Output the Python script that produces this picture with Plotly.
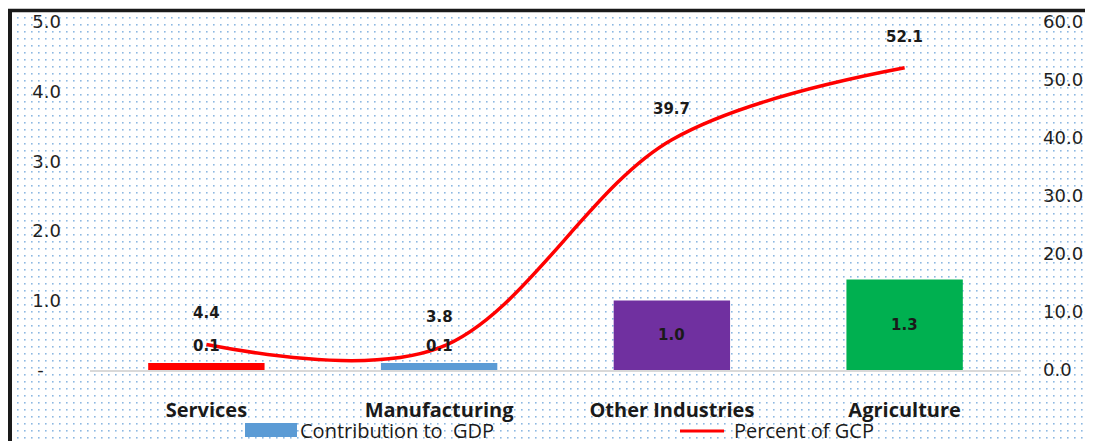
import base64
import plotly.graph_objects as go

categories = ["Services", "Manufacturing", "Other Industries", "Agriculture"]
contribution_gdp = [0.1, 0.1, 1.0, 1.3]
percent_gcp = [4.4, 3.8, 39.7, 52.1]
bar_colors = ["#FF0000", "#5B9BD5", "#7030A0", "#00B050"]
left_ticks = [0, 1, 2, 3, 4, 5]
left_ticktext = ["-\u00a0\u00a0\u00a0", "1.0", "2.0", "3.0", "4.0", "5.0"]
right_ticks = [0, 10, 20, 30, 40, 50, 60]
right_ticktext = ["0.0", "10.0", "20.0", "30.0", "40.0", "50.0", "60.0"]

W, H = 1093, 441
OFF = 8  # page body margin: figure is drawn 8px right/down in the window
ML, MT = 90 - OFF, 22 - OFF
MB = H - (370 - OFF)
MR = W - (1021 - OFF)
PW, PH = W - ML - MR, H - MT - MB


def px(x):  # window pixel -> paper x
    return (x - OFF - ML) / PW


def py(y):  # window pixel -> paper y
    return (H - MB - (y - OFF)) / PH


# dotted background pattern
svg = (
    f'<svg xmlns="http://www.w3.org/2000/svg" width="{W}" height="{H}">'
    '<defs><pattern id="d" width="7" height="7" patternUnits="userSpaceOnUse">'
    '<rect x="2" y="2" width="1.6" height="1.6" fill="#8DB8E2"/></pattern></defs>'
    f'<rect x="{12 - OFF}" y="{12 - OFF}" width="{W}" height="{H}" fill="url(#d)"/></svg>'
)
svg_uri = "data:image/svg+xml;base64," + base64.b64encode(svg.encode()).decode()

fig = go.Figure()
fig.add_trace(go.Bar(
    x=categories, y=contribution_gdp, marker=dict(color=bar_colors, line=dict(width=0)),
    width=0.5, name="Contribution to  GDP", showlegend=False, hoverinfo="x+y",
))
fig.add_trace(go.Scatter(
    x=categories, y=percent_gcp, yaxis="y2", mode="lines",
    line=dict(color="#FF0000", width=3.5, shape="spline", smoothing=1.0),
    name="Percent of GCP", showlegend=False,
))

annotations = []
label_font = dict(family="DejaVu Sans", size=15, color="#1a1a1a")
for c, v in zip(categories, contribution_gdp):
    if v < 0.5:
        annotations.append(dict(x=c, y=v, xref="x", yref="y", text=f"<b>{v:.1f}</b>",
                                showarrow=False, yshift=17, font=label_font))
    else:
        annotations.append(dict(x=c, y=v / 2, xref="x", yref="y", text=f"<b>{v:.1f}</b>",
                                showarrow=False, font=label_font))
for c, v in zip(categories, percent_gcp):
    annotations.append(dict(x=c, y=v, xref="x", yref="y2", text=f"<b>{v:.1f}</b>",
                            showarrow=False, yshift=31, font=label_font))

legend_font = dict(family="Open Sans", size=20, color="#1a1a1a")
annotations.append(dict(x=px(298), y=py(430.5), xref="paper", yref="paper", xanchor="left",
                        yanchor="middle", text="Contribution to \u00a0GDP", showarrow=False,
                        font=legend_font))
annotations.append(dict(x=px(732), y=py(430.5), xref="paper", yref="paper", xanchor="left",
                        yanchor="middle", text="Percent of GCP", showarrow=False,
                        font=legend_font))

shapes = [
    dict(type="rect", xref="paper", yref="paper", x0=px(245), x1=px(297), y0=py(437), y1=py(423),
         fillcolor="#5B9BD5", line=dict(width=0)),
    dict(type="line", xref="paper", yref="paper", x0=px(680), x1=px(724), y0=py(431), y1=py(431),
         line=dict(color="#FF0000", width=3)),
    dict(type="line", xref="paper", yref="paper", x0=px(10), x1=px(10), y0=py(9), y1=py(460),
         line=dict(color="#1a1a1a", width=4)),
    dict(type="line", xref="paper", yref="paper", x0=px(8), x1=px(1110), y0=py(10.5), y1=py(10.5),
         line=dict(color="#1a1a1a", width=3.5)),
]

fig.update_layout(
    width=W, height=H,
    margin=dict(l=ML, r=MR, t=MT, b=MB),
    paper_bgcolor="white", plot_bgcolor="rgba(0,0,0,0)",
    images=[dict(source=svg_uri, xref="paper", yref="paper", x=-ML / PW, y=1 + MT / PH,
                 sizex=W / PW, sizey=H / PH, sizing="stretch", xanchor="left", yanchor="top",
                 layer="below")],
    xaxis=dict(showgrid=False, showline=True, linecolor="#D9D9D9", linewidth=2,
               ticks="", ticklabelstandoff=21, automargin=False,
               tickfont=dict(family="Open Sans", size=20, color="#1a1a1a"),
               tickvals=categories, ticktext=[f"<b>{c}</b>" for c in categories]),
    yaxis=dict(range=[0, 5], tickvals=left_ticks, ticktext=left_ticktext, showgrid=False,
               zeroline=False, showline=False, ticks="", ticklabelstandoff=28, automargin=False,
               tickfont=dict(family="DejaVu Sans", size=18, color="#1f1f1f")),
    yaxis2=dict(range=[0, 60], tickvals=right_ticks, ticktext=right_ticktext, overlaying="y",
                side="right", showgrid=False, zeroline=False, showline=False, ticks="",
                ticklabelstandoff=21, automargin=False,
                tickfont=dict(family="DejaVu Sans", size=18, color="#1f1f1f")),
    bargap=0.5,
    annotations=annotations,
    shapes=shapes,
    showlegend=False,
)

fig.write_html("out.html")
